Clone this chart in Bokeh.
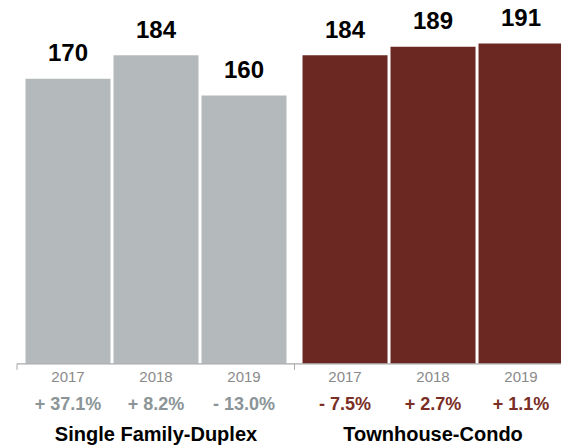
from bokeh.plotting import figure
from bokeh.models import Range1d, ColumnDataSource
from bokeh.core.properties import value
from bokeh.embed import file_html
from bokeh.resources import INLINE

# ---- data ----
groups = ["Single Family-Duplex", "Townhouse-Condo"]
years = ["2017", "2018", "2019"]
single_family = [170, 184, 160]
townhouse = [184, 189, 191]
single_family_change = [37.1, 8.2, -13.0]
townhouse_change = [-7.5, 2.7, 1.1]

# ---- styles / layout ----
W, H = 561, 448
BAR_COLORS = ["#b4babb", "#6b2822"]
PCT_COLORS = ["#8b9597", "#7a2e26"]
YEAR_COLOR = "#8a8a8a"
AXIS_COLOR = "#a8a8a8"
FONT = "Liberation Sans"
SPACING_PX = 88.0          # px per category
GROUP_GAP = 0.148          # extra category units between groups
BAR_W = 0.966
Y_PX = 1.677               # px per value unit
BASE_PX = 363.3            # baseline pixel row
X0_PX = 67.5               # pixel of first category center

def px(n):  # pixel distance -> y data units
    return n / Y_PX

x_start = -X0_PX / SPACING_PX
x_end = (W - X0_PX) / SPACING_PX
y_end = BASE_PX / Y_PX
y_start = -(H - BASE_PX) / Y_PX

p = figure(width=W, height=H, x_range=Range1d(x_start, x_end), y_range=Range1d(y_start, y_end),
           output_backend="svg", toolbar_location=None, min_border=0,
           background_fill_color="white", border_fill_color="white")
p.axis.visible = False
p.grid.visible = False
p.outline_line_color = None

series = [single_family, townhouse]
changes = [single_family_change, townhouse_change]

group_centers = []
for g, (vals, chg) in enumerate(zip(series, changes)):
    xs = [g * (len(years) + GROUP_GAP) + i for i in range(len(years))]
    group_centers.append(sum(xs) / len(xs))
    src = ColumnDataSource(dict(
        x=xs, top=vals,
        label=[str(v) for v in vals],
        ly=[v + px(26) for v in vals],
        year=years,
        yy=[-px(12.7)] * len(xs),
        pct=[("+ " if c >= 0 else "- ") + f"{abs(c):.1f}%" for c in chg],
        py=[-px(39.7)] * len(xs),
    ))
    p.vbar(x="x", top="top", bottom=0, width=BAR_W, color=BAR_COLORS[g], line_color=None, source=src)
    p.text(x="x", y="ly", text="label", source=src, text_align="center", text_baseline="middle",
           text_font=value(FONT), text_font_style="bold", text_font_size="24px", text_color="#000000")
    p.text(x="x", y="yy", text="year", source=src, text_align="center", text_baseline="middle",
           text_font=value(FONT), text_font_size="15px", text_color=YEAR_COLOR)
    p.text(x="x", y="py", text="pct", source=src, text_align="center", text_baseline="middle",
           text_font=value(FONT), text_font_style="bold", text_font_size="18px", text_color=PCT_COLORS[g])

gsrc = ColumnDataSource(dict(x=group_centers, y=[-px(70.3)] * len(groups), t=groups))
p.text(x="x", y="y", text="t", source=gsrc, text_align="center", text_baseline="middle",
       text_font=value(FONT), text_font_style="bold", text_font_size="20px", text_color="#000000")

# axis baseline and ticks
axis_left = -0.5795
mid_tick = (len(years) - 1 + len(years) + GROUP_GAP) / 2
p.segment(x0=[axis_left], y0=[0], x1=[x_end], y1=[0], line_color=AXIS_COLOR, line_width=1.2)
p.segment(x0=[axis_left, mid_tick], y0=[0, 0], x1=[axis_left, mid_tick], y1=[-px(6), -px(6)],
          line_color=AXIS_COLOR, line_width=1)

open("out.html", "w").write(file_html(p, INLINE))
